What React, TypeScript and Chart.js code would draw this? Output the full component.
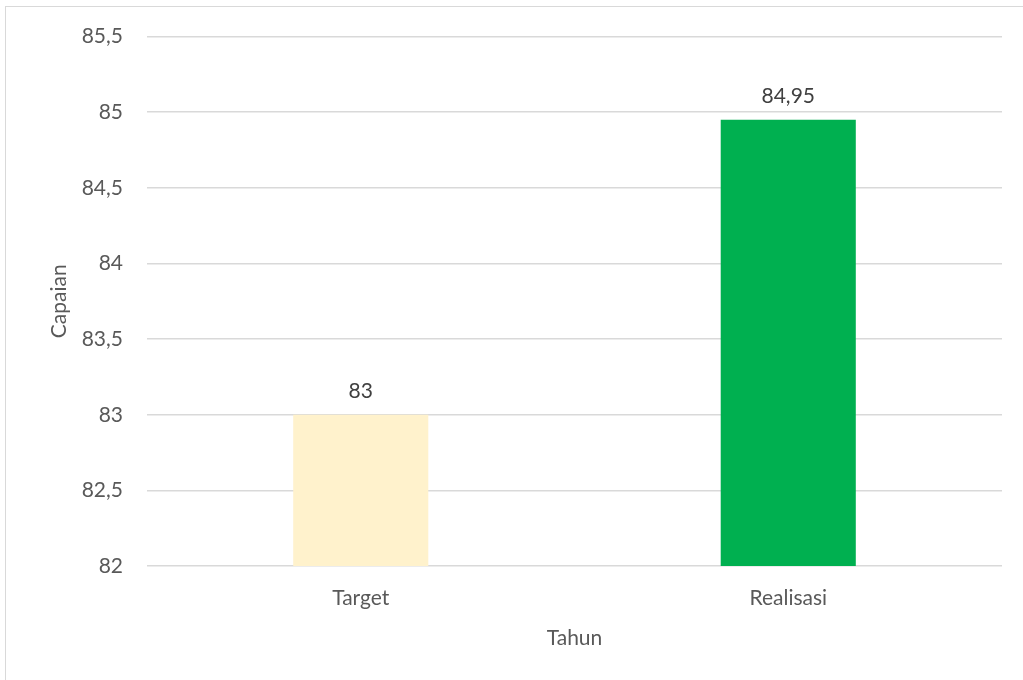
import React, { useEffect, useRef } from "react";
import { Chart, registerables } from "chart.js";

Chart.register(...registerables);

const categories = ["Target", "Realisasi"];
const values = [83, 84.95];
const barColors = ["#FFF2CC", "#00B050"];
const yTicks = [82, 82.5, 83, 83.5, 84, 84.5, 85, 85.5];
const yTitle = "Capaian";
const xTitle = "Tahun";

const FONT = "Lato, 'Open Sans', sans-serif";
const TEXT = "#595959";
const fmt = (v: number) => String(v).replace(".", ",");

const valueLabels = {
  id: "valueLabels",
  afterDatasetsDraw(chart: any) {
    const ctx = chart.ctx;
    const meta = chart.getDatasetMeta(0);
    ctx.save();
    ctx.font = `21px ${FONT}`;
    ctx.fillStyle = "#404040";
    ctx.textAlign = "center";
    ctx.textBaseline = "alphabetic";
    meta.data.forEach((bar: any, i: number) => {
      ctx.fillText(fmt(values[i]), bar.x, bar.y - 17);
    });
    ctx.restore();
  },
};

export default function App() {
  const ref = useRef<HTMLCanvasElement>(null);
  useEffect(() => {
    if (!ref.current) return;
    const chart = new Chart(ref.current, {
      type: "bar",
      data: {
        labels: categories,
        datasets: [
          {
            data: values,
            backgroundColor: barColors,
            borderWidth: 0,
            barPercentage: 0.316,
            categoryPercentage: 1,
          },
        ],
      },
      plugins: [valueLabels],
      options: {
        responsive: false,
        animation: false,
        layout: { padding: { left: 22, right: 21, top: 36, bottom: 0 } },
        plugins: {
          legend: { display: false },
          tooltip: { enabled: false },
          title: { display: false },
        },
        scales: {
          x: {
            grid: { display: false, drawTicks: false },
            border: { display: false },
            ticks: { color: TEXT, font: { family: FONT, size: 21 }, padding: 20 },
            title: {
              display: true,
              text: xTitle,
              color: TEXT,
              font: { family: FONT, size: 21 },
              padding: { top: 0, bottom: 29 },
            },
            afterFit: (s: any) => {
              s.height = 114;
            },
          },
          y: {
            min: 82,
            max: 85.5,
            afterBuildTicks: (s: any) => {
              s.ticks = yTicks.map((v) => ({ value: v }));
            },
            grid: { color: "#D9D9D9", lineWidth: 1.5, drawTicks: false },
            border: { display: false },
            ticks: {
              color: TEXT,
              font: { family: FONT, size: 21 },
              padding: 24,
              callback: (v: any) => fmt(Number(v)),
            },
            title: {
              display: true,
              text: yTitle,
              color: TEXT,
              font: { family: FONT, size: 21 },
              padding: { top: 25, bottom: 0 },
            },
            afterFit: (s: any) => {
              s.width = 147 - 22;
            },
          },
        },
      },
    });
    return () => chart.destroy();
  }, []);

  return (
    <div style={{ position: "fixed", left: 0, top: 0, width: 1023, height: 680, background: "#fff", overflow: "hidden" }}>
      <div
        style={{
          position: "absolute",
          left: 5,
          top: 6,
          width: 1100,
          height: 800,
          border: "1.5px solid #D9D9D9",
        }}
      />
      <canvas ref={ref} width={1023} height={680} style={{ position: "absolute", left: 0, top: 0 }} />
    </div>
  );
}
